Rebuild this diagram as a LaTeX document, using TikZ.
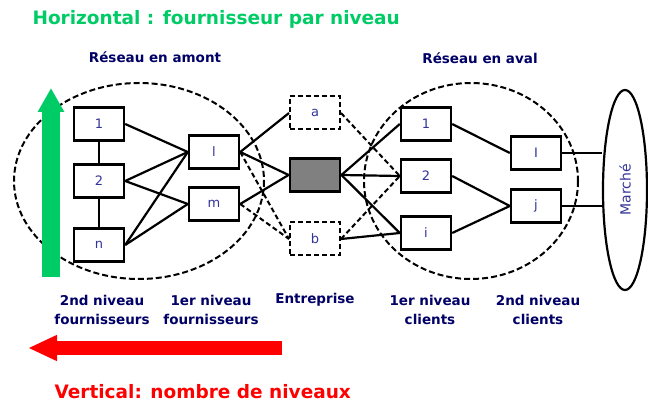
\documentclass[tikz,border=0pt]{standalone}
\usepackage{fontspec}
\setmainfont{DejaVu Sans}
\usepackage{graphicx}
\usetikzlibrary{arrows.meta, shapes.geometric}
\definecolor{levelgreen}{RGB}{0,204,102}
\definecolor{levelred}{RGB}{255,0,0}
\definecolor{navy}{RGB}{0,0,102}
\definecolor{boxblue}{RGB}{51,51,153}

\begin{document}
\begin{tikzpicture}[
  x=1pt, y=-1pt,
  box/.style={rectangle, draw, fill=white, line width=2.4pt, minimum width=50pt,
              minimum height=33pt, inner sep=0pt, text=boxblue,
              font=\fontsize{13}{13}\selectfont},
  altbox/.style={box, line width=2pt, dash pattern=on 5pt off 3pt},
  link/.style={line width=2.2pt},
  altlink/.style={link, line width=2pt, dash pattern=on 5pt off 3pt},
  group/.style={draw, line width=2pt, dash pattern=on 6pt off 3pt},
  caption/.style={align=center, text=navy, font=\fontsize{13.5}{19}\selectfont\bfseries},
  banner/.style={anchor=west, font=\fontsize{18.5}{20}\selectfont\bfseries}
]
  \useasboundingbox (0,0) rectangle (648,403);

  % Upstream and downstream networks
  \draw[group] (139,181) ellipse [x radius=125, y radius=98];
  \draw[group] (471,181) ellipse [x radius=107, y radius=98];

  % Suppliers, second then first level
  \node[box] (s1) at (99,124) {1};
  \node[box] (s2) at (99,181) {2};
  \node[box] (sn) at (99,245) {n};
  \node[box] (sl) at (214,152) {l};
  \node[box] (sm) at (214,204) {m};

  % The firm between its two dashed neighbours
  \node[altbox] (fa) at (315,113) {a};
  \node[box, fill=gray, line width=2.8pt] (firm) at (315,175) {};
  \node[altbox] (fb) at (315,239) {b};

  % Clients, first then second level
  \node[box] (c1) at (426,124) {1};
  \node[box] (c2) at (426,176) {2};
  \node[box] (ci) at (426,233) {i};
  \node[box] (cI) at (536,153) {I};
  \node[box] (cj) at (536,206) {j};

  % Market
  \node[ellipse, draw, line width=2.2pt, minimum width=44pt, minimum height=200pt,
        inner sep=0pt, text=boxblue] (market) at (625,190)
    {\rotatebox{90}{\fontsize{14}{14}\selectfont Marché}};

  % Upstream links
  \draw[link] (s1) -- (s2);
  \draw[link] (s2) -- (sn);
  \draw[link] (s1.east) -- (sl.west);
  \draw[link] (s2.east) -- (sl.west);
  \draw[link] (s2.east) -- (sm.west);
  \draw[link] (sn.east) -- (sl.west);
  \draw[link] (sn.east) -- (sm.west);
  \draw[link] (sl.east) -- (fa.west);
  \draw[link] (sl.east) -- (firm.west);
  \draw[link] (sm.east) -- (firm.west);
  \draw[altlink] (sl.east) -- (fb.west);
  \draw[altlink] (sm.east) -- (fb.west);

  % Downstream links
  \draw[link] (firm.east) -- (c1.west);
  \draw[link] (firm.east) -- (c2.west);
  \draw[link] (firm.east) -- (ci.west);
  \draw[altlink] (fa.east) -- (c2.west);
  \draw[altlink] (fb.east) -- (c2.west);
  \draw[link] (fb.east) -- (ci.west);
  \draw[link] (c1.east) -- (cI.west);
  \draw[link] (c2.east) -- (cj.west);
  \draw[link] (ci.east) -- (cj.west);
  \draw[link] (cI.east) -- (cI.east -| market.west);
  \draw[link] (cj.east) -- (cj.east -| market.west);

  % Titles and captions
  \node[banner, text=levelgreen] (htitle) at (29,19) {Horizontal : fournisseur par niveau};
  \node[caption] (upname) at (155,57) {Réseau en amont};
  \node[caption] (downname) at (480,58) {Réseau en aval};
  \node[caption] (caps2) at (102,310) {2nd niveau\\fournisseurs};
  \node[caption] (caps1) at (211,310) {1er niveau\\fournisseurs};
  \node[caption] (capfirm) at (315,300) {Entreprise};
  \node[caption] (capc1) at (430,310) {1er niveau\\clients};
  \node[caption] (capc2) at (538,310) {2nd niveau\\clients};
  \node[banner, text=levelred] (vtitle) at (51,392) {Vertical: nombre de niveaux};

  % Level arrows
  \coordinate (vlow) at (51,277);
  \coordinate (vhigh) at (51,88);
  \draw[levelgreen, line width=17.5pt, -{Triangle[length=24pt, width=25pt]}] (vlow) -- (vhigh);
  \coordinate (hright) at (282,348);
  \coordinate (hleft) at (28,348);
  \draw[levelred, line width=14pt, -{Triangle[length=29pt, width=24pt]}] (hright) -- (hleft);
\end{tikzpicture}
\end{document}
